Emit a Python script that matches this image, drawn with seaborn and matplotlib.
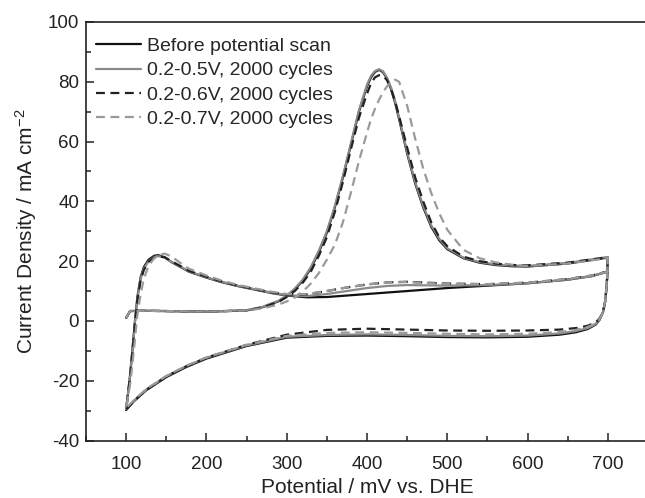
import numpy as np
import pandas as pd
import matplotlib
matplotlib.use("Agg")
import matplotlib.pyplot as plt
from matplotlib.ticker import MultipleLocator
import seaborn as sns

# ---- series labels ----
labels = [
    "Before potential scan",
    "0.2-0.5V, 2000 cycles",
    "0.2-0.6V, 2000 cycles",
    "0.2-0.7V, 2000 cycles",
]

# ---- first anodic sweep (CO stripping), 100 -> 700 mV ----
pot_a = [100, 105, 120, 150, 200, 250, 270, 290, 300, 310, 320, 330, 340, 350,
         360, 370, 380, 390, 400, 405, 410, 415, 420, 425, 430, 435, 440, 450,
         460, 470, 480, 490, 500, 520, 540, 560, 580, 600, 650, 700]
cur_a_before = [1.0, 3.3, 3.4, 3.3, 3.1, 3.5, 4.6, 6.6, 8.3, 10.5, 13.5, 17.5, 23, 29.5,
                38, 48, 59, 70, 78.5, 81.5, 83.3, 84, 83.2, 81, 77.5, 73, 67.5, 56,
                46, 38, 31.5, 27, 24, 21, 19.5, 18.7, 18.3, 18.2, 19.2, 21.2]
cur_a_05 = [1.0, 3.3, 3.4, 3.3, 3.1, 3.6, 4.7, 6.8, 8.5, 10.8, 13.8, 18, 23.5, 30,
            38.5, 48.5, 59.5, 70.5, 79, 82, 83.6, 84.2, 83.5, 81.3, 78, 73.5, 68, 56.5,
            46.5, 38.5, 32, 27.5, 24.3, 21.2, 19.7, 18.9, 18.5, 18.4, 19.4, 21.4]
cur_a_06 = [1.0, 3.3, 3.4, 3.3, 3.1, 3.5, 4.5, 6.4, 8.0, 10.0, 12.8, 16.5, 21.8, 28,
            36.5, 46.5, 57.5, 68, 76, 79.5, 81.5, 82.2, 82, 80.5, 77.5, 73.5, 68.5, 58,
            48, 40, 33, 28, 25, 21.5, 20, 19.2, 18.7, 18.6, 19.5, 21.3]
cur_a_07 = [1.0, 3.3, 3.4, 3.3, 3.1, 3.5, 4.2, 5.5, 6.5, 7.8, 9.8, 12.5, 16, 20.5,
            25.5, 33, 43, 53.5, 63, 67.5, 71, 74, 76.5, 78.5, 80, 80.7, 80, 72,
            61, 51, 42.8, 36, 30.5, 23.8, 21, 19.6, 18.8, 18.4, 19.2, 21.0]

# ---- cathodic sweep, 700 -> 100 mV ----
pot_b = [700, 699, 697, 694, 690, 685, 675, 660, 640, 600, 550, 500, 450, 400,
         350, 300, 250, 200, 175, 150, 125, 110, 100]
cur_b_before = [21.2, 14, 7, 3, 0.5, -1.2, -2.7, -3.8, -4.6, -5.3, -5.5, -5.4, -5.1, -4.9,
                -5.0, -5.6, -8.4, -12.6, -15.4, -18.8, -23.2, -26.8, -29.8]
cur_b_05 = [21.4, 14, 7, 3, 0.7, -1.0, -2.4, -3.4, -4.2, -4.9, -5.1, -5.0, -4.7, -4.5,
            -4.7, -5.3, -8.2, -12.3, -15.1, -18.5, -23.0, -26.6, -29.5]
cur_b_06 = [21.3, 14, 7, 3, 1.0, -0.5, -1.6, -2.4, -2.9, -3.2, -3.3, -3.2, -2.9, -2.6,
            -3.0, -4.6, -8.0, -12.3, -15.2, -18.6, -23.1, -26.7, -29.6]
cur_b_07 = [21.0, 14, 7, 3, 0.8, -0.8, -2.0, -3.0, -3.7, -4.3, -4.5, -4.3, -4.0, -3.8,
            -4.0, -5.0, -8.0, -12.2, -15.0, -18.4, -22.8, -26.4, -29.2]

# ---- second anodic sweep, 100 -> 700 mV ----
pot_c = [100, 105, 108, 111, 114, 118, 122, 128, 135, 140, 148, 157, 168, 178,
         200, 220, 240, 260, 280, 300, 325, 350, 375, 400, 425, 450, 475, 500,
         550, 600, 650, 680, 700]
cur_c_before = [-29.8, -18, -9, 0, 8, 14.5, 18, 20.5, 21.8, 22, 21.3, 19.6, 18, 16.5,
                14.5, 12.9, 11.6, 10.5, 9.4, 8.5, 7.9, 8.0, 8.5, 9.0, 9.5, 10.0, 10.5, 11.0,
                11.8, 12.6, 13.8, 15.0, 16.5]
cur_c_05 = [-29.5, -18, -9.5, -0.5, 7.5, 14, 17.5, 20, 21.4, 21.7, 21.2, 19.7, 18.1, 16.6,
            14.6, 13.0, 11.7, 10.6, 9.5, 8.6, 8.3, 9.0, 10.0, 11.0, 11.7, 12.0, 11.9, 11.8,
            12.0, 12.6, 13.8, 15.0, 16.5]
cur_c_06 = [-29.6, -18.5, -10, -1, 7, 13.5, 17, 19.8, 21.2, 21.6, 21.3, 19.9, 18.3, 16.8,
            14.8, 13.1, 11.8, 10.7, 9.6, 8.8, 8.9, 10.0, 11.2, 12.2, 12.9, 13.1, 12.8, 12.5,
            12.3, 12.8, 14.0, 15.2, 16.6]
cur_c_07 = [-29.2, -21, -14, -6, 2, 9, 14, 18.5, 21, 22, 22.5, 21.5, 19.3, 17.5,
            15.2, 13.4, 12.0, 10.9, 9.8, 9.0, 9.0, 10.0, 11.2, 12.2, 12.9, 13.0, 12.7, 12.4,
            12.3, 12.8, 14.0, 15.2, 16.5]

# ---- tick values ----
x_ticks = [100, 200, 300, 400, 500, 600, 700]
y_ticks = [-40, -20, 0, 20, 40, 60, 80, 100]

currents = {
    labels[0]: (cur_a_before, cur_b_before, cur_c_before),
    labels[1]: (cur_a_05, cur_b_05, cur_c_05),
    labels[2]: (cur_a_06, cur_b_06, cur_c_06),
    labels[3]: (cur_a_07, cur_b_07, cur_c_07),
}

frames = []
for name, (ca, cb, cc) in currents.items():
    pot = pot_a + pot_b + pot_c
    cur = ca + cb + cc
    frames.append(pd.DataFrame({"potential": pot, "current": cur, "series": name,
                                "step": np.arange(len(pot))}))
df = pd.concat(frames, ignore_index=True)

sns.set_theme(style="ticks")
plt.rcParams["font.family"] = ["Liberation Sans", "DejaVu Sans"]
plt.rcParams["mathtext.fontset"] = "custom"
plt.rcParams["mathtext.rm"] = "Liberation Sans"
plt.rcParams["mathtext.it"] = "Liberation Sans"
plt.rcParams["axes.unicode_minus"] = False

fig = plt.figure(figsize=(6.45, 4.98), dpi=100)
ax = fig.add_axes([86 / 645, (498 - 440.5) / 498, 562 / 645, 418.5 / 498])

palette = {labels[0]: "#111111", labels[1]: "#8a8a8a",
           labels[2]: "#222222", labels[3]: "#9a9a9a"}
dashes = {labels[0]: "", labels[1]: "", labels[2]: (4, 2.5), labels[3]: (4, 2.5)}

sns.lineplot(data=df, x="potential", y="current", hue="series", style="series",
             palette=palette, dashes=dashes, sort=False, estimator=None,
             linewidth=1.6, ax=ax, hue_order=labels, style_order=labels)

ax.set_xlim(50, 750)
ax.set_ylim(-40, 100)
ax.set_xticks(x_ticks)
ax.set_yticks(y_ticks)
ax.xaxis.set_minor_locator(MultipleLocator(50))
ax.yaxis.set_minor_locator(MultipleLocator(10))
ax.tick_params(which="both", direction="in", top=False, right=False,
               color="#222222", width=1.1)
ax.tick_params(which="major", length=6, labelsize=13.5, colors="#222222")
ax.tick_params(axis="x", which="major", pad=11)
ax.tick_params(axis="y", which="major", pad=5)
ax.tick_params(which="minor", length=3.5)
for side in ["left", "bottom", "top", "right"]:
    ax.spines[side].set_visible(True)
    ax.spines[side].set_color("#222222")
    ax.spines[side].set_linewidth(1.2)

ax.set_xlabel("Potential / mV vs. DHE", fontsize=15, color="#222222", labelpad=4)
ax.set_ylabel("Current Density / mA cm$^{-2}$", fontsize=15, color="#222222", labelpad=6)

handles, labs = ax.get_legend_handles_labels()
ax.legend(handles, labs, loc="upper left", frameon=False, fontsize=14,
          handlelength=2.3, handletextpad=0.3, labelspacing=0.34,
          borderaxespad=0.4, bbox_to_anchor=(-0.009, 1.0))

fig.savefig("out.png", dpi=100, facecolor="white")
